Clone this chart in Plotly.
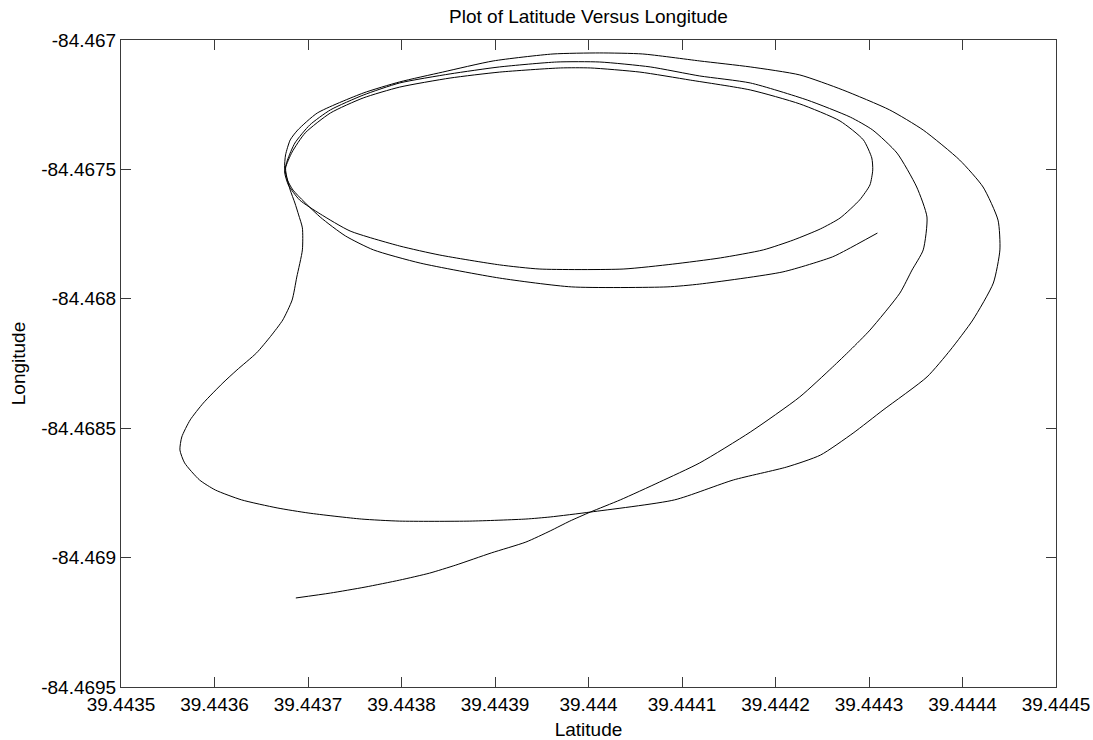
import plotly.graph_objects as go

# GPS track: latitude / longitude samples in driving order
latitude = [
    39.443687, 39.443724, 39.443761, 39.443798, 39.443830, 39.443858, 39.443896, 39.443933,
    39.443959, 39.443980, 39.444002, 39.444034, 39.444076, 39.444119, 39.444173, 39.444226,
    39.444261, 39.444280, 39.444301, 39.444333, 39.444346, 39.444358, 39.444362, 39.444351,
    39.444330, 39.444304, 39.444280, 39.444234, 39.444173, 39.444119, 39.444066, 39.444012,
    39.443966, 39.443905, 39.443852, 39.443798, 39.443759, 39.443724, 39.443702, 39.443686,
    39.443678, 39.443675,
    39.443679, 39.443691, 39.443713, 39.443745, 39.443798, 39.443841, 39.443905, 39.443948,
    39.444037, 39.444090, 39.444141, 39.444187, 39.444219, 39.444248, 39.444269, 39.444290,
    39.444301, 39.444304, 39.444303, 39.444294, 39.444269, 39.444226, 39.444173, 39.444109,
    39.444055, 39.444002, 39.443970, 39.443905, 39.443852, 39.443798, 39.443759, 39.443724,
    39.443697, 39.443683, 39.443676, 39.443678,
    39.443681, 39.443686, 39.443690, 39.443694, 39.443694, 39.443688, 39.443683, 39.443673,
    39.443660, 39.443645, 39.443624, 39.443609, 39.443588, 39.443574, 39.443565, 39.443563,
    39.443568, 39.443584, 39.443601, 39.443629, 39.443667, 39.443701, 39.443757, 39.443798,
    39.443873, 39.443933, 39.443959, 39.444002, 39.444092, 39.444155, 39.444212, 39.444248,
    39.444283, 39.444315, 39.444362, 39.444387, 39.444411, 39.444433, 39.444440, 39.444438,
    39.444422, 39.444397, 39.444358, 39.444322, 39.444272, 39.444226, 39.444173, 39.444119,
    39.444058, 39.444012, 39.443962, 39.443898, 39.443844, 39.443798, 39.443759, 39.443710,
    39.443689, 39.443681, 39.443676, 39.443675, 39.443678,
    39.443684, 39.443713, 39.443740, 39.443770, 39.443820, 39.443905, 39.443982, 39.444084,
    39.444119, 39.444208, 39.444261, 39.444276, 39.444309,
]
longitude = [
    -84.469156, -84.469137, -84.469114, -84.469087, -84.469060, -84.469029, -84.468982, -84.468940,
    -84.468897, -84.468859, -84.468824, -84.468777, -84.468708, -84.468634, -84.468515, -84.468379,
    -84.468264, -84.468198, -84.468121, -84.467978, -84.467889, -84.467811, -84.467684, -84.467568,
    -84.467437, -84.467348, -84.467298, -84.467232, -84.467166, -84.467139, -84.467104, -84.467085,
    -84.467085, -84.467104, -84.467131, -84.467166, -84.467213, -84.467270, -84.467328, -84.467398,
    -84.467464, -84.467510,
    -84.467560, -84.467618, -84.467672, -84.467738, -84.467796, -84.467831, -84.467869, -84.467885,
    -84.467885, -84.467866, -84.467842, -84.467811, -84.467773, -84.467730, -84.467688, -84.467618,
    -84.467560, -84.467502, -84.467456, -84.467386, -84.467313, -84.467247, -84.467193, -84.467155,
    -84.467124, -84.467108, -84.467108, -84.467124, -84.467147, -84.467182, -84.467224, -84.467282,
    -84.467359, -84.467433, -84.467495, -84.467541,
    -84.467580, -84.467630, -84.467676, -84.467726, -84.467811, -84.467916, -84.468005, -84.468082,
    -84.468145, -84.468209, -84.468275, -84.468325, -84.468403, -84.468468, -84.468534, -84.468584,
    -84.468634, -84.468700, -84.468739, -84.468777, -84.468808, -84.468828, -84.468851, -84.468859,
    -84.468859, -84.468851, -84.468843, -84.468824, -84.468777, -84.468700, -84.468650, -84.468604,
    -84.468519, -84.468430, -84.468302, -84.468198, -84.468082, -84.467939, -84.467811, -84.467696,
    -84.467568, -84.467464, -84.467348, -84.467270, -84.467193, -84.467135, -84.467104, -84.467081,
    -84.467054, -84.467050, -84.467054, -84.467081, -84.467124, -84.467162, -84.467205, -84.467282,
    -84.467348, -84.467386, -84.467444, -84.467495, -84.467541,
    -84.467580, -84.467684, -84.467757, -84.467811, -84.467862, -84.467920, -84.467954, -84.467954,
    -84.467943, -84.467896, -84.467838, -84.467811, -84.467746,
]

# Axis ticks and their printed labels
x_ticks = [39.4435, 39.4436, 39.4437, 39.4438, 39.4439, 39.4440,
           39.4441, 39.4442, 39.4443, 39.4444, 39.4445]
x_labels = ["39.4435", "39.4436", "39.4437", "39.4438", "39.4439", "39.444",
            "39.4441", "39.4442", "39.4443", "39.4444", "39.4445"]
y_ticks = [-84.467, -84.4675, -84.468, -84.4685, -84.469, -84.4695]
y_labels = ["-84.467", "-84.4675", "-84.468", "-84.4685", "-84.469", "-84.4695"]

FONT = "Liberation Sans, Arial, sans-serif"
AXIS_COLOR = "#3a3a3a"

fig = go.Figure(
    go.Scatter(
        x=latitude,
        y=longitude,
        mode="lines",
        line=dict(color="black", width=1, shape="spline", smoothing=0.6),
        hoverinfo="x+y",
    )
)

axis_common = dict(
    showgrid=False,
    zeroline=False,
    showline=True,
    linecolor=AXIS_COLOR,
    linewidth=1,
    mirror="ticks",
    ticks="inside",
    ticklen=10,
    tickwidth=1,
    tickcolor=AXIS_COLOR,
    tickfont=dict(family=FONT, size=19, color="black"),
)

fig.update_xaxes(
    range=[39.4435, 39.4445],
    tickmode="array",
    tickvals=x_ticks,
    ticktext=x_labels,
    title=dict(text="Latitude", font=dict(family=FONT, size=19, color="black"), standoff=8),
    **axis_common,
)
fig.update_yaxes(
    range=[-84.4695, -84.467],
    tickmode="array",
    tickvals=y_ticks,
    ticktext=y_labels,
    title=dict(text="Longitude", font=dict(family=FONT, size=19, color="black"), standoff=10),
    **axis_common,
)

fig.update_layout(
    width=1093,
    height=740,
    margin=dict(l=121, r=37, t=40, b=53, autoexpand=False),
    paper_bgcolor="white",
    plot_bgcolor="white",
    showlegend=False,
    title=dict(
        text="Plot of Latitude Versus Longitude",
        font=dict(family=FONT, size=19, color="black"),
        x=0.5,
        xref="paper",
        xanchor="center",
        y=1 - 10 / 740,
        yref="container",
        yanchor="top",
    ),
)

fig.write_html("out.html")
